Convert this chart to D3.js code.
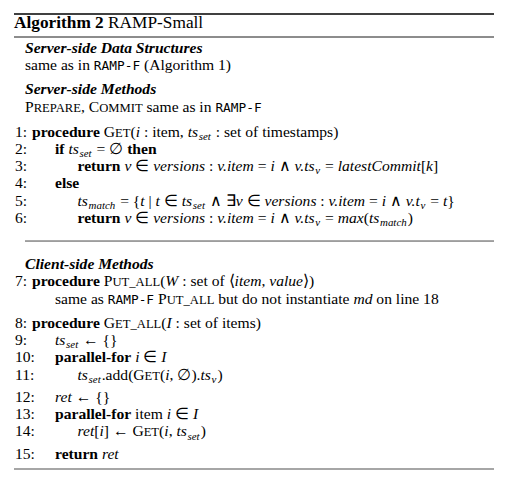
<!DOCTYPE html>
<html>
<head>
<meta charset="utf-8">
<script src="https://cdn.jsdelivr.net/npm/d3@7"></script>
<style>
  body { margin: 0; background: #fff; }
</style>
</head>
<body>
<div id="chart"></div>
<script>
// text content of the algorithm box, token = [text, style]
// styles: r roman, b bold, i italic, bi bold italic, sc small caps, tt typewriter, sub subscript
const title = [["Algorithm 2", "b"], [" RAMP-Small", "r"]];

const serverHeader = [
    [["Server-side Data Structures", "bi"]],
    [["same as in ", "r"], ["RAMP-F", "tt"], [" (Algorithm 1)", "r"]],
    [["Server-side Methods", "bi"]],
    [["PREPARE", "sc"], [", ", "r"], ["COMMIT", "sc"], [" same as in ", "r"], ["RAMP-F", "tt"]]
];

const serverLines = [
    [["procedure", "b"], [" ", "r"], ["GET", "sc"], ["(", "r"], ["i", "i"], [" : item, ", "r"], ["ts", "i"], ["set", "sub"], [" : set of timestamps)", "r"]],
    [["if", "b"], [" ", "r"], ["ts", "i"], ["set", "sub"], [" = \u2205 ", "r"], ["then", "b"]],
    [["return", "b"], [" ", "r"], ["v", "i"], [" \u2208 ", "r"], ["versions", "i"], [" : ", "r"], ["v.item", "i"], [" = ", "r"], ["i", "i"], [" \u2227 ", "r"], ["v.ts", "i"], ["v", "sub"], [" = ", "r"], ["latestCommit", "i"], ["[", "r"], ["k", "i"], ["]", "r"]],
    [["else", "b"]],
    [["ts", "i"], ["match", "sub"], [" = {", "r"], ["t", "i"], [" | ", "r"], ["t", "i"], [" \u2208 ", "r"], ["ts", "i"], ["set", "sub"], [" \u2227 \u2203", "r"], ["v", "i"], [" \u2208 ", "r"], ["versions", "i"], [" : ", "r"], ["v.item", "i"], [" = ", "r"], ["i", "i"], [" \u2227 ", "r"], ["v.t", "i"], ["v", "sub"], [" = ", "r"], ["t", "i"], ["}", "r"]],
    [["return", "b"], [" ", "r"], ["v", "i"], [" \u2208 ", "r"], ["versions", "i"], [" : ", "r"], ["v.item", "i"], [" = ", "r"], ["i", "i"], [" \u2227 ", "r"], ["v.ts", "i"], ["v", "sub"], [" = ", "r"], ["max", "i"], ["(", "r"], ["ts", "i"], ["match", "sub"], [")", "r"]]
];
const serverNums = ["1:", "2:", "3:", "4:", "5:", "6:"];
const serverIndent = [0, 1, 2, 1, 2, 2];

const clientHeader = [["Client-side Methods", "bi"]];

const putAllLines = [
    [["procedure", "b"], [" ", "r"], ["PUT_ALL", "sc"], ["(", "r"], ["W", "i"], [" : set of \u27E8", "r"], ["item", "i"], [", ", "r"], ["value", "i"], ["\u27E9)", "r"]],
    [["same as ", "r"], ["RAMP-F", "tt"], [" ", "r"], ["PUT_ALL", "sc"], [" but do not instantiate ", "r"], ["md", "i"], [" on line 18", "r"]]
];
const putAllNums = ["7:", ""];
const putAllIndent = [0, 1];

const getAllLines = [
    [["procedure", "b"], [" ", "r"], ["GET_ALL", "sc"], ["(", "r"], ["I", "i"], [" : set of items)", "r"]],
    [["ts", "i"], ["set", "sub"], [" \u2190 {}", "r"]],
    [["parallel-for", "b"], [" ", "r"], ["i", "i"], [" \u2208 ", "r"], ["I", "i"]],
    [["ts", "i"], ["set", "sub"], [".add(", "r"], ["GET", "sc"], ["(", "r"], ["i", "i"], [", \u2205).", "r"], ["ts", "i"], ["v", "sub"], [")", "r"]],
    [["ret", "i"], [" \u2190 {}", "r"]],
    [["parallel-for", "b"], [" item ", "r"], ["i", "i"], [" \u2208 ", "r"], ["I", "i"]],
    [["ret", "i"], ["[", "r"], ["i", "i"], ["] \u2190 ", "r"], ["GET", "sc"], ["(", "r"], ["i", "i"], [", ", "r"], ["ts", "i"], ["set", "sub"], [")", "r"]],
    [["return", "b"], [" ", "r"], ["ret", "i"]]
];
const getAllNums = ["8:", "9:", "10:", "11:", "12:", "13:", "14:", "15:"];
const getAllIndent = [0, 1, 1, 2, 1, 1, 2, 1];

// ---- layout ----
const width = 511, height = 496;
const left = 14, right = 494;
const fs = 15.6;
const serifFont = "'Liberation Serif', 'Times New Roman', serif";
const monoFont = "'DejaVu Sans Mono', monospace";

// line slot -> baseline
const y = d3.scaleLinear().domain([0, 1]).range([28, 28 + 17.25]);
const x = d3.scaleLinear().domain([0, 1]).range([55, 77.5]);   // indent levels 1, 2

const svg = d3.select("#chart").append("svg")
    .attr("width", width)
    .attr("height", height)
    .style("display", "block");

function writeTokens(sel, tokens, size) {
    let shifted = 0;
    tokens.forEach(([txt, st]) => {
        if (st === "sc") {
            // small caps: first letter full size, rest reduced
            const a = sel.append("tspan").style("font-family", serifFont).text(txt[0]);
            if (shifted) a.attr("dy", -shifted).attr("dx", 1);
            shifted = 0;
            sel.append("tspan").style("font-family", serifFont)
                .style("font-size", (size * 0.81) + "px").text(txt.slice(1));
            return;
        }
        const t = sel.append("tspan").style("font-family", serifFont);
        if (st === "sub") {
            t.attr("dy", 3.2 - shifted).attr("dx", 0.7)
                .style("font-size", (size * 0.7) + "px").style("font-style", "italic");
            shifted = 3.2;
        } else {
            // back to the baseline after a subscript
            if (shifted) t.attr("dy", -shifted).attr("dx", 1);
            shifted = 0;
            if (st === "b" || st === "bi") t.style("font-weight", "bold");
            if (st === "i" || st === "bi") t.style("font-style", "italic");
            if (st === "tt") t.style("font-family", monoFont).style("font-size", "12.8px");
        }
        t.text(txt);
    });
}

function textLine(xPos, slot, tokens, size = fs) {
    const t = svg.append("text")
        .attr("x", xPos)
        .attr("y", y(slot))
        .style("font-family", serifFont)
        .style("font-size", size + "px")
        .style("white-space", "pre")
        .attr("fill", "#000");
    writeTokens(t, tokens, size);
}

function numbered(slot, num, level, tokens) {
    if (num) textLine(left + 1, slot, [[num, "r"]]);
    textLine(level === 0 ? 32 : x(level - 1), slot, tokens);
}

function rule(yPos, x0, w, color) {
    svg.append("line")
        .attr("x1", x0).attr("x2", right)
        .attr("y1", yPos).attr("y2", yPos)
        .attr("stroke", color).attr("stroke-width", w);
}

// rules
rule(14, left, 1.6, "#000");
rule(37, left, 0.9, "#000");

textLine(left, 0, title, 17.3);

// server side
const serverSlots = [1.45, 2.45, 3.85, 4.85];
serverHeader.forEach((tk, i) => textLine(25, serverSlots[i], tk));
serverLines.forEach((tk, i) => numbered(6.3 + i, serverNums[i], serverIndent[i], tk));

rule(y(12.35), 25, 0.9, "#333");

// client side
textLine(25, 13.97, clientHeader);
putAllLines.forEach((tk, i) => numbered(14.96 + i * 1.04, putAllNums[i], putAllIndent[i], tk));
const getAllSlots = [17.39, 18.39, 19.39, 20.39, 21.67, 22.67, 23.67, 25.0];
getAllLines.forEach((tk, i) => numbered(getAllSlots[i], getAllNums[i], getAllIndent[i], tk));

rule(469, left, 1.6, "#888");
</script>
</body>
</html>
